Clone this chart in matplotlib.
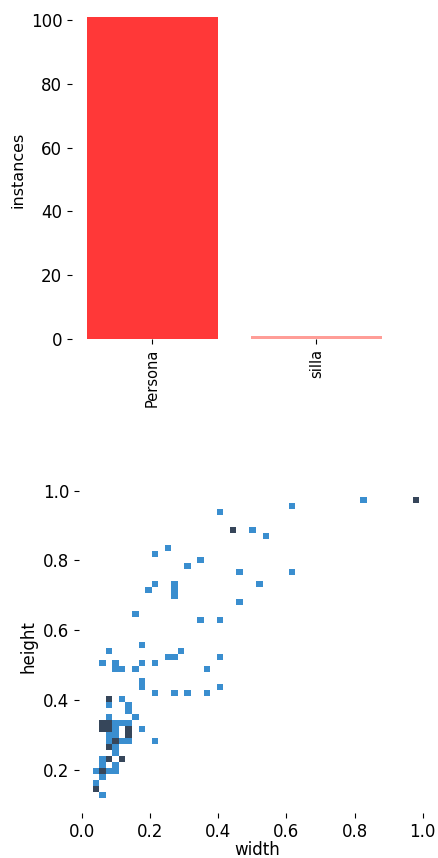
import matplotlib
matplotlib.use('Agg')
import matplotlib.pyplot as plt
from matplotlib.colors import ListedColormap, BoundaryNorm
import numpy as np

# class counts
names = ['Persona', 'silla']
instances = [101, 1]
bar_colors = ['#FF3838', '#FF9D97']

# normalised box sizes, one entry per label (repeated entries = darker cells)
width = [
    0.829, 0.980, 0.980, 0.619, 0.406, 0.445, 0.445, 0.503, 0.541,
    0.254, 0.215, 0.350, 0.311, 0.464, 0.619, 0.523, 0.215, 0.272,
    0.272, 0.197, 0.272, 0.464, 0.158, 0.350, 0.406, 0.179, 0.081,
    0.291, 0.254, 0.272, 0.406, 0.062, 0.101, 0.179, 0.215, 0.101,
    0.120, 0.158, 0.369, 0.179, 0.179, 0.406, 0.215, 0.272, 0.311,
    0.369,
    # dense cluster of small boxes
    0.080, 0.080, 0.119,
    0.080, 0.138,
    0.138,
    0.080, 0.157,
    0.061, 0.061, 0.080, 0.080, 0.099, 0.119, 0.138,
    0.061, 0.061, 0.080, 0.080, 0.099, 0.138, 0.138, 0.176,
    0.080, 0.099, 0.138, 0.138,
    0.080, 0.099, 0.099, 0.119, 0.138, 0.214,
    0.080, 0.080, 0.099,
    0.099,
    0.061, 0.080, 0.080, 0.119, 0.119,
    0.061, 0.099,
    0.042, 0.061, 0.061, 0.080, 0.099,
    0.061,
    0.042,
    0.042, 0.042,
    0.061,
]
height = [
    0.973, 0.973, 0.973, 0.957, 0.940, 0.887, 0.887, 0.887, 0.871,
    0.835, 0.819, 0.801, 0.784, 0.766, 0.766, 0.733, 0.733, 0.733,
    0.716, 0.716, 0.698, 0.680, 0.646, 0.628, 0.628, 0.558, 0.541,
    0.541, 0.525, 0.525, 0.525, 0.507, 0.507, 0.507, 0.507, 0.490,
    0.490, 0.490, 0.490, 0.456, 0.439, 0.439, 0.421, 0.421, 0.421,
    0.421,
    0.404, 0.404, 0.404,
    0.387, 0.387,
    0.369,
    0.352, 0.352,
    0.335, 0.335, 0.335, 0.335, 0.335, 0.335, 0.335,
    0.318, 0.318, 0.318, 0.318, 0.318, 0.318, 0.318, 0.318,
    0.300, 0.300, 0.300, 0.300,
    0.283, 0.283, 0.283, 0.283, 0.283, 0.283,
    0.266, 0.266, 0.266,
    0.249,
    0.231, 0.231, 0.231, 0.231, 0.231,
    0.214, 0.214,
    0.197, 0.197, 0.197, 0.197, 0.197,
    0.180,
    0.162,
    0.145, 0.145,
    0.128,
]

fig = plt.figure(figsize=(4.39, 8.58), dpi=100)

# instances per class
ax1 = fig.add_axes([0.164, 0.605, 0.740, 0.394])
x = np.arange(len(names))
ax1.bar(x, instances, width=0.8, color=bar_colors)
ax1.set_ylabel('instances', fontsize=11.5)
ax1.set_xticks(x)
ax1.set_xticklabels(names, rotation=90, fontsize=10.5)
ax1.set_yticks([0, 20, 40, 60, 80, 100])
ax1.tick_params(axis='y', labelsize=12)

# width vs height 2d histogram (50 bins)
w = np.array(width)
h = np.array(height)
dx = (w.max() - w.min()) / 49
dy = (h.max() - h.min()) / 49
xe = np.linspace(w.min() - dx / 2, w.max() + dx / 2, 51)
ye = np.linspace(h.min() - dy / 2, h.max() + dy / 2, 51)
H, xe, ye = np.histogram2d(w, h, bins=[xe, ye])
H = np.ma.masked_equal(H, 0)

ax2 = fig.add_axes([0.180, 0.0525, 0.8125, 0.388])
cmap = ListedColormap(['#3a8ecf', '#36465a'])
norm = BoundaryNorm([0.5, 1.5, 10], 2)
ax2.pcolormesh(xe, ye, H.T, cmap=cmap, norm=norm)
ax2.set_xlim(-0.008, 1.038)
ax2.set_ylim(0.077, 1.030)
ax2.set_xticks([0.0, 0.2, 0.4, 0.6, 0.8, 1.0])
ax2.set_yticks([0.2, 0.4, 0.6, 0.8, 1.0])
ax2.tick_params(labelsize=12)
ax2.set_xlabel('width', fontsize=12, labelpad=0)
ax2.set_ylabel('height', fontsize=12)

for a in (ax1, ax2):
    for s in ['top', 'right', 'left', 'bottom']:
        a.spines[s].set_visible(False)

fig.savefig('out.png', dpi=100)
